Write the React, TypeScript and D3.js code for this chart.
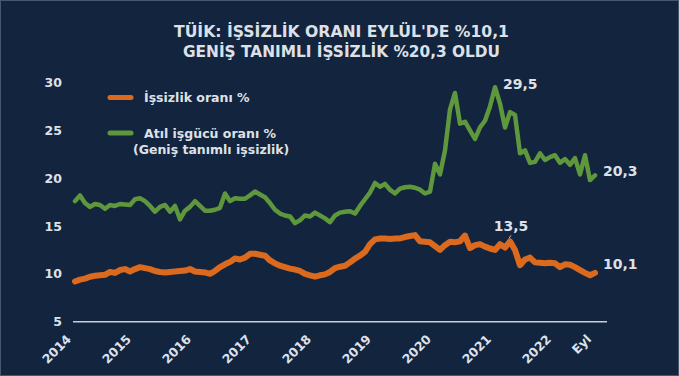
import React from 'react';
import * as d3 from 'd3';

// Monthly series, Jan 2014 (index 0) .. Sep 2022 (index 104)
const unemployment = [
  9.2, 9.4, 9.5, 9.7, 9.8, 9.85, 9.9, 10.2, 10.1, 10.4, 10.5, 10.25,
  10.5, 10.7, 10.6, 10.5, 10.3, 10.2, 10.15, 10.2, 10.25, 10.3, 10.35, 10.5,
  10.25, 10.2, 10.15, 10.0, 10.3, 10.7, 11.0, 11.25, 11.6, 11.5, 11.7, 12.1,
  12.1, 12.0, 11.9, 11.4, 11.1, 10.85, 10.7, 10.55, 10.45, 10.3, 10.0, 9.85,
  9.7, 9.85, 9.95, 10.2, 10.6, 10.75, 10.85, 11.2, 11.6, 11.9, 12.3, 13.1,
  13.6, 13.7, 13.7, 13.65, 13.7, 13.7, 13.85, 13.95, 14.05, 13.4, 13.35, 13.3,
  12.9, 12.5, 13.0, 13.35, 13.3, 13.4, 14.0, 12.7, 13.0, 13.1, 12.85, 12.65,
  12.5, 13.1, 12.75, 13.4, 12.5, 10.9, 11.5, 11.7, 11.2, 11.15, 11.1, 11.15,
  11.1, 10.7, 11.0, 10.95, 10.7, 10.4, 10.1, 9.85, 10.1,
];
const broadUnemployment = [
  17.6, 18.2, 17.4, 17.0, 17.3, 17.2, 16.8, 17.2, 17.1, 17.3, 17.25, 17.2,
  17.8, 17.9, 17.6, 17.1, 16.5, 17.0, 17.2, 16.5, 17.1, 15.7, 16.6, 17.0,
  17.6, 17.1, 16.6, 16.6, 16.7, 16.9, 18.4, 17.6, 17.9, 17.85, 17.85, 18.2,
  18.6, 18.3, 18.0, 17.4, 16.7, 16.3, 16.1, 16.0, 15.3, 15.6, 16.1, 16.0,
  16.4, 16.1, 15.8, 15.4, 16.1, 16.4, 16.5, 16.55, 16.3, 17.1, 17.8, 18.5,
  19.5, 19.1, 19.4, 18.8, 18.4, 18.9, 19.05, 19.1, 19.0, 18.8, 18.4, 18.6,
  21.5, 20.4, 22.9, 27.2, 28.9, 25.7, 25.9, 25.0, 24.1, 25.3, 26.0, 27.5,
  29.5, 27.8, 25.3, 26.9, 26.6, 22.6, 22.9, 21.6, 21.7, 22.6, 21.9, 22.2,
  22.4, 21.6, 22.0, 21.4, 22.1, 20.4, 22.4, 19.8, 20.3,
];
const xTickLabels = ['2014', '2015', '2016', '2017', '2018', '2019', '2020', '2021', '2022', 'Eyl'];
const xTickIndex = [0, 12, 24, 36, 48, 60, 72, 84, 96, 104];
const yTicks = [5, 10, 15, 20, 25, 30];
const titleLines = ["TÜİK: İŞSİZLİK ORANI EYLÜL'DE %10,1", 'GENİŞ TANIMLI İŞSİZLİK %20,3 OLDU'];
const seriesNames = ['İşsizlik oranı %', 'Atıl işgücü oranı %', '(Geniş tanımlı işsizlik)'];
const peakIndexUnemp = 87;
const peakLabelUnemp = '13,5';
const peakIndexBroad = 84;
const peakLabelBroad = '29,5';
const lastLabelUnemp = '10,1';
const lastLabelBroad = '20,3';

const BG = '#13243e';
const TXT = '#dde1e7';
const ORANGE = '#dc6a1e';
const GREEN = '#5f973d';
const FONT = '"DejaVu Sans", Verdana, sans-serif';

export default function App() {
  const W = 679;
  const H = 376;
  const x = d3.scaleLinear().domain([0, 104]).range([75, 595]);
  const y = d3.scaleLinear().domain([5, 30]).range([321.7, 82.5]);
  const line = d3
    .line<number>()
    .x((_, i) => x(i))
    .y((d) => y(d));
  const last = unemployment.length - 1;

  return (
    <svg
      width={W}
      height={H}
      style={{ position: 'absolute', left: 0, top: 0, display: 'block' }}
      fontFamily={FONT}
    >
      <rect x={0} y={0} width={W} height={H} fill={BG} />
      <rect x={0.5} y={0.5} width={W - 1} height={H - 1} fill="none" stroke="#7d8a9c" strokeOpacity={0.5} />

      {/* Title */}
      {titleLines.map((t, i) => (
        <text
          key={i}
          x={W / 2 + 2}
          y={36.5 + i * 20}
          textAnchor="middle"
          fill={TXT}
          fontSize={16.5}
          fontWeight="bold"
          fontFamily='"DejaVu Sans", sans-serif'
          textLength={i === 0 ? 335 : 317}
          lengthAdjust="spacingAndGlyphs"
        >
          {t}
        </text>
      ))}

      {/* Y tick labels */}
      {yTicks.map((t) => (
        <text
          key={t}
          x={62}
          y={y(t)}
          dy="0.36em"
          textAnchor="end"
          fill={TXT}
          fontSize={12.5}
          fontWeight="bold"
        >
          {t}
        </text>
      ))}

      {/* X axis line */}
      <line x1={73} x2={607} y1={y(5)} y2={y(5)} stroke="#c9ced6" strokeWidth={1.5} />

      {/* X tick labels */}
      {xTickIndex.map((idx, i) => (
        <text
          key={i}
          transform={`translate(${x(idx) - 3},${340}) rotate(-45)`}
          textAnchor="end"
          fill={TXT}
          fontSize={12.5}
          fontWeight="bold"
        >
          {xTickLabels[i]}
        </text>
      ))}

      {/* Lines */}
      <path d={line(broadUnemployment) || ''} fill="none" stroke={GREEN} strokeWidth={4.5} strokeLinejoin="round" strokeLinecap="round" />
      <path d={line(unemployment) || ''} fill="none" stroke={ORANGE} strokeWidth={6} strokeLinejoin="round" strokeLinecap="round" />

      {/* Legend */}
      <line x1={110} x2={131} y1={97.5} y2={97.5} stroke={ORANGE} strokeWidth={5} strokeLinecap="round" />
      <text x={144} y={102} fill={TXT} fontSize={12.5} fontWeight="bold">{seriesNames[0]}</text>
      <line x1={110} x2={131} y1={133} y2={133} stroke={GREEN} strokeWidth={5} strokeLinecap="round" />
      <text x={144} y={138} fill={TXT} fontSize={12.5} fontWeight="bold">{seriesNames[1]}</text>
      <text x={133} y={154} fill={TXT} fontSize={12.5} fontWeight="bold">{seriesNames[2]}</text>

      {/* Data labels */}
      <text x={x(peakIndexBroad) + 8} y={y(broadUnemployment[peakIndexBroad]) + 2} fill={TXT} fontSize={14} fontWeight="bold">
        {peakLabelBroad}
      </text>
      <line
        x1={x(peakIndexUnemp) - 1}
        y1={y(unemployment[peakIndexUnemp]) - 3}
        x2={x(peakIndexUnemp) + 1}
        y2={y(unemployment[peakIndexUnemp]) - 6}
        stroke={TXT}
        strokeWidth={0.8}
      />
      <text x={x(peakIndexUnemp) + 1} y={y(unemployment[peakIndexUnemp]) - 10} textAnchor="middle" fill={TXT} fontSize={14} fontWeight="bold">
        {peakLabelUnemp}
      </text>
      <text x={x(last) + 8} y={y(broadUnemployment[last]) - 4} dy="0.36em" fill={TXT} fontSize={14} fontWeight="bold">
        {lastLabelBroad}
      </text>
      <text x={x(last) + 8} y={y(unemployment[last]) - 9} dy="0.36em" fill={TXT} fontSize={14} fontWeight="bold">
        {lastLabelUnemp}
      </text>
    </svg>
  );
}
